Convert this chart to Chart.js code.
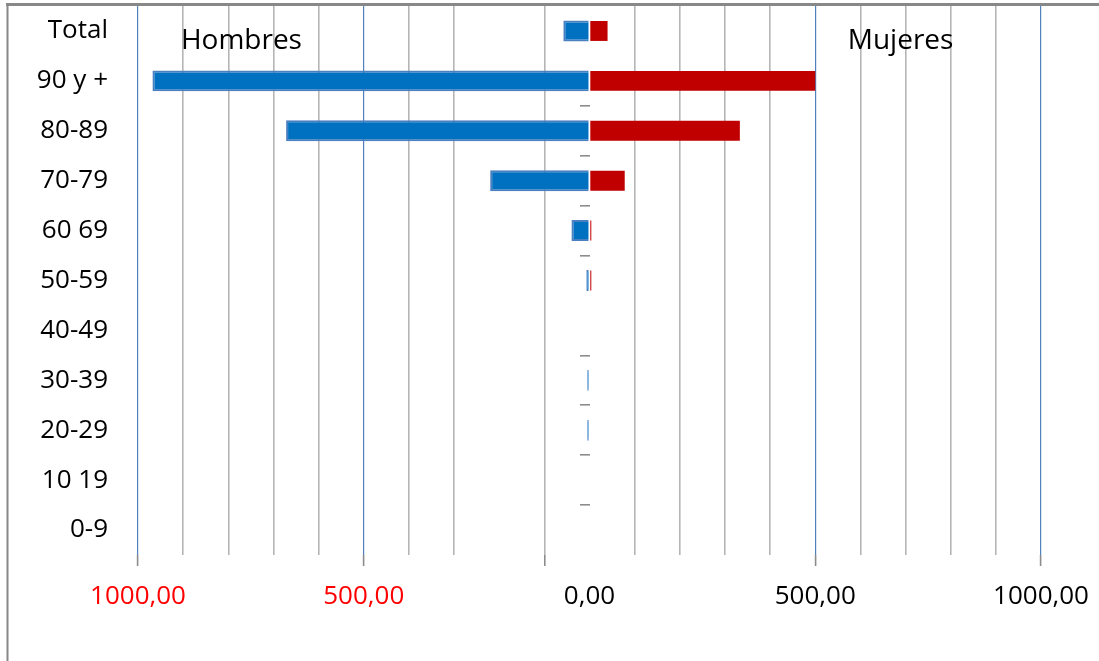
<!DOCTYPE html>
<html>
<head>
<meta charset="utf-8">
<script src="https://cdn.jsdelivr.net/npm/chart.js@4"></script>
<style>
  html, body { margin: 0; padding: 0; background: #ffffff; }
  canvas { display: block; }
</style>
</head>
<body>
<canvas id="pyramid" width="1099" height="661"></canvas>
<script>
// Age groups, top to bottom
const ageGroups = ['Total', '90 y +', '80-89', '70-79', '60 69', '50-59', '40-49', '30-39', '20-29', '10 19', '0-9'];

// Men are plotted to the left (negative), women to the right
const hombres = [-58, -968, -672, -220, -40, -7, 0, -5, -5, 0, 0];
const mujeres = [40, 500, 333, 78, 4, 4, 0, 0, 0, 0, 0];

// Labelled positions on the value axis and their texts
const tickValues = [-1000, -500, 0, 500, 1000];
const tickLabels = ['1000,00', '500,00', '0,00', '500,00', '1000,00'];

// Panel headings
const sideTitles = ['Hombres', 'Mujeres'];

const FONT = { family: '"Open Sans", "Noto Sans", sans-serif', size: 26 };
const TITLE_SIZE = 28;
const GRAY = '#b5b5b5';
const BLUE_LINE = '#4f81bd';

const gridValues = [];
for (let v = -1000; v <= 1000; v += 100) gridValues.push(v);

// Frame around the chart and the two side headings
const framePlugin = {
  id: 'frame',
  beforeDraw(chart) {
    const ctx = chart.ctx;
    ctx.save();
    ctx.fillStyle = '#ffffff';
    ctx.fillRect(0, 0, chart.width, chart.height);
    ctx.restore();
  },
  afterDraw(chart) {
    const ctx = chart.ctx;
    const x = chart.scales.x, y = chart.scales.y;
    ctx.save();
    ctx.strokeStyle = '#888888';
    ctx.lineWidth = 3;
    ctx.beginPath();
    ctx.moveTo(6, 4.5);
    ctx.lineTo(chart.width, 4.5);
    ctx.stroke();
    ctx.lineWidth = 2;
    ctx.beginPath();
    ctx.moveTo(7.5, 3);
    ctx.lineTo(7.5, chart.height);
    ctx.stroke();

    ctx.fillStyle = '#000000';
    ctx.font = TITLE_SIZE + 'px ' + FONT.family;
    ctx.textBaseline = 'middle';
    ctx.textAlign = 'left';
    const ty = y.getPixelForValue(0.2);
    ctx.fillText(sideTitles[0], x.getPixelForValue(-905), ty);
    ctx.fillText(sideTitles[1], x.getPixelForValue(572), ty);
    ctx.restore();
  }
};

const markedBoundaries = [2, 3, 4, 5, 7, 8, 9, 10];

new Chart(document.getElementById('pyramid'), {
  type: 'bar',
  data: {
    labels: ageGroups,
    datasets: [
      {
        label: 'Hombres',
        data: hombres,
        backgroundColor: '#0070c0',
        borderColor: '#4a7fc0',
        borderWidth: 2,
        borderSkipped: 'start',
        barPercentage: 0.42,
        categoryPercentage: 1.0
      },
      {
        label: 'Mujeres',
        data: mujeres,
        backgroundColor: '#c00000',
        borderWidth: 0,
        barPercentage: 0.4,
        categoryPercentage: 1.0
      }
    ]
  },
  options: {
    indexAxis: 'y',
    responsive: false,
    animation: false,
    devicePixelRatio: 1,
    layout: { padding: { left: 0, right: 58, top: 6, bottom: 0 } },
    plugins: {
      legend: { display: false },
      tooltip: { enabled: false }
    },
    scales: {
      x: {
        type: 'linear',
        min: -1000,
        max: 1000,
        stacked: true,
        afterBuildTicks(scale) {
          scale.ticks = gridValues.map(v => ({ value: v }));
        },
        afterFit(scale) {
          scale.height = 106;
          scale.paddingLeft = 0;
          scale.paddingRight = 0;
        },
        border: { display: false },
        grid: {
          color(ctx) {
            const v = ctx.tick ? ctx.tick.value : null;
            if (v === 0 || v === -200) return 'rgba(0,0,0,0)';
            if (v === -1000 || v === -500 || v === 500 || v === 1000) return BLUE_LINE;
            return GRAY;
          },
          lineWidth(ctx) {
            const v = ctx.tick ? ctx.tick.value : null;
            if (v === -1000 || v === -500 || v === 500 || v === 1000) return 1.2;
            return 1.6;
          },
          tickLength: 11,
          tickWidth: 1.6,
          tickColor(ctx) {
            const v = ctx.tick ? ctx.tick.value : null;
            if (v === -1000 || v === -500 || v === -100 || v === 500 || v === 1000) return '#8c8c8c';
            return 'rgba(0,0,0,0)';
          }
        },
        ticks: {
          autoSkip: false,
          maxRotation: 0,
          padding: 15,
          font: FONT,
          color(ctx) {
            return ctx.tick && ctx.tick.value < 0 ? '#ff0000' : '#000000';
          },
          callback(value) {
            const i = tickValues.indexOf(value);
            return i >= 0 ? tickLabels[i] : '';
          }
        }
      },
      y: {
        type: 'category',
        stacked: true,
        offset: true,
        afterFit(scale) {
          scale.width = 138;
          scale.paddingTop = 0;
          scale.paddingBottom = 0;
        },
        border: { display: false },
        grid: { display: false, drawTicks: true, tickLength: 30 },
        ticks: { padding: 0, font: FONT, color: '#000000', autoSkip: false }
      },
      yMarks: {
        type: 'category',
        axis: 'y',
        labels: ageGroups,
        position: { x: 0 },
        offset: true,
        border: { display: false },
        ticks: { display: false },
        grid: {
          offset: true,
          drawOnChartArea: false,
          drawTicks: true,
          tickLength: 10,
          lineWidth: 1.6,
          color(ctx) {
            return markedBoundaries.includes(ctx.index) ? '#8c8c8c' : 'rgba(0,0,0,0)';
          }
        }
      }
    }
  },
  plugins: [framePlugin]
});
</script>
</body>
</html>
